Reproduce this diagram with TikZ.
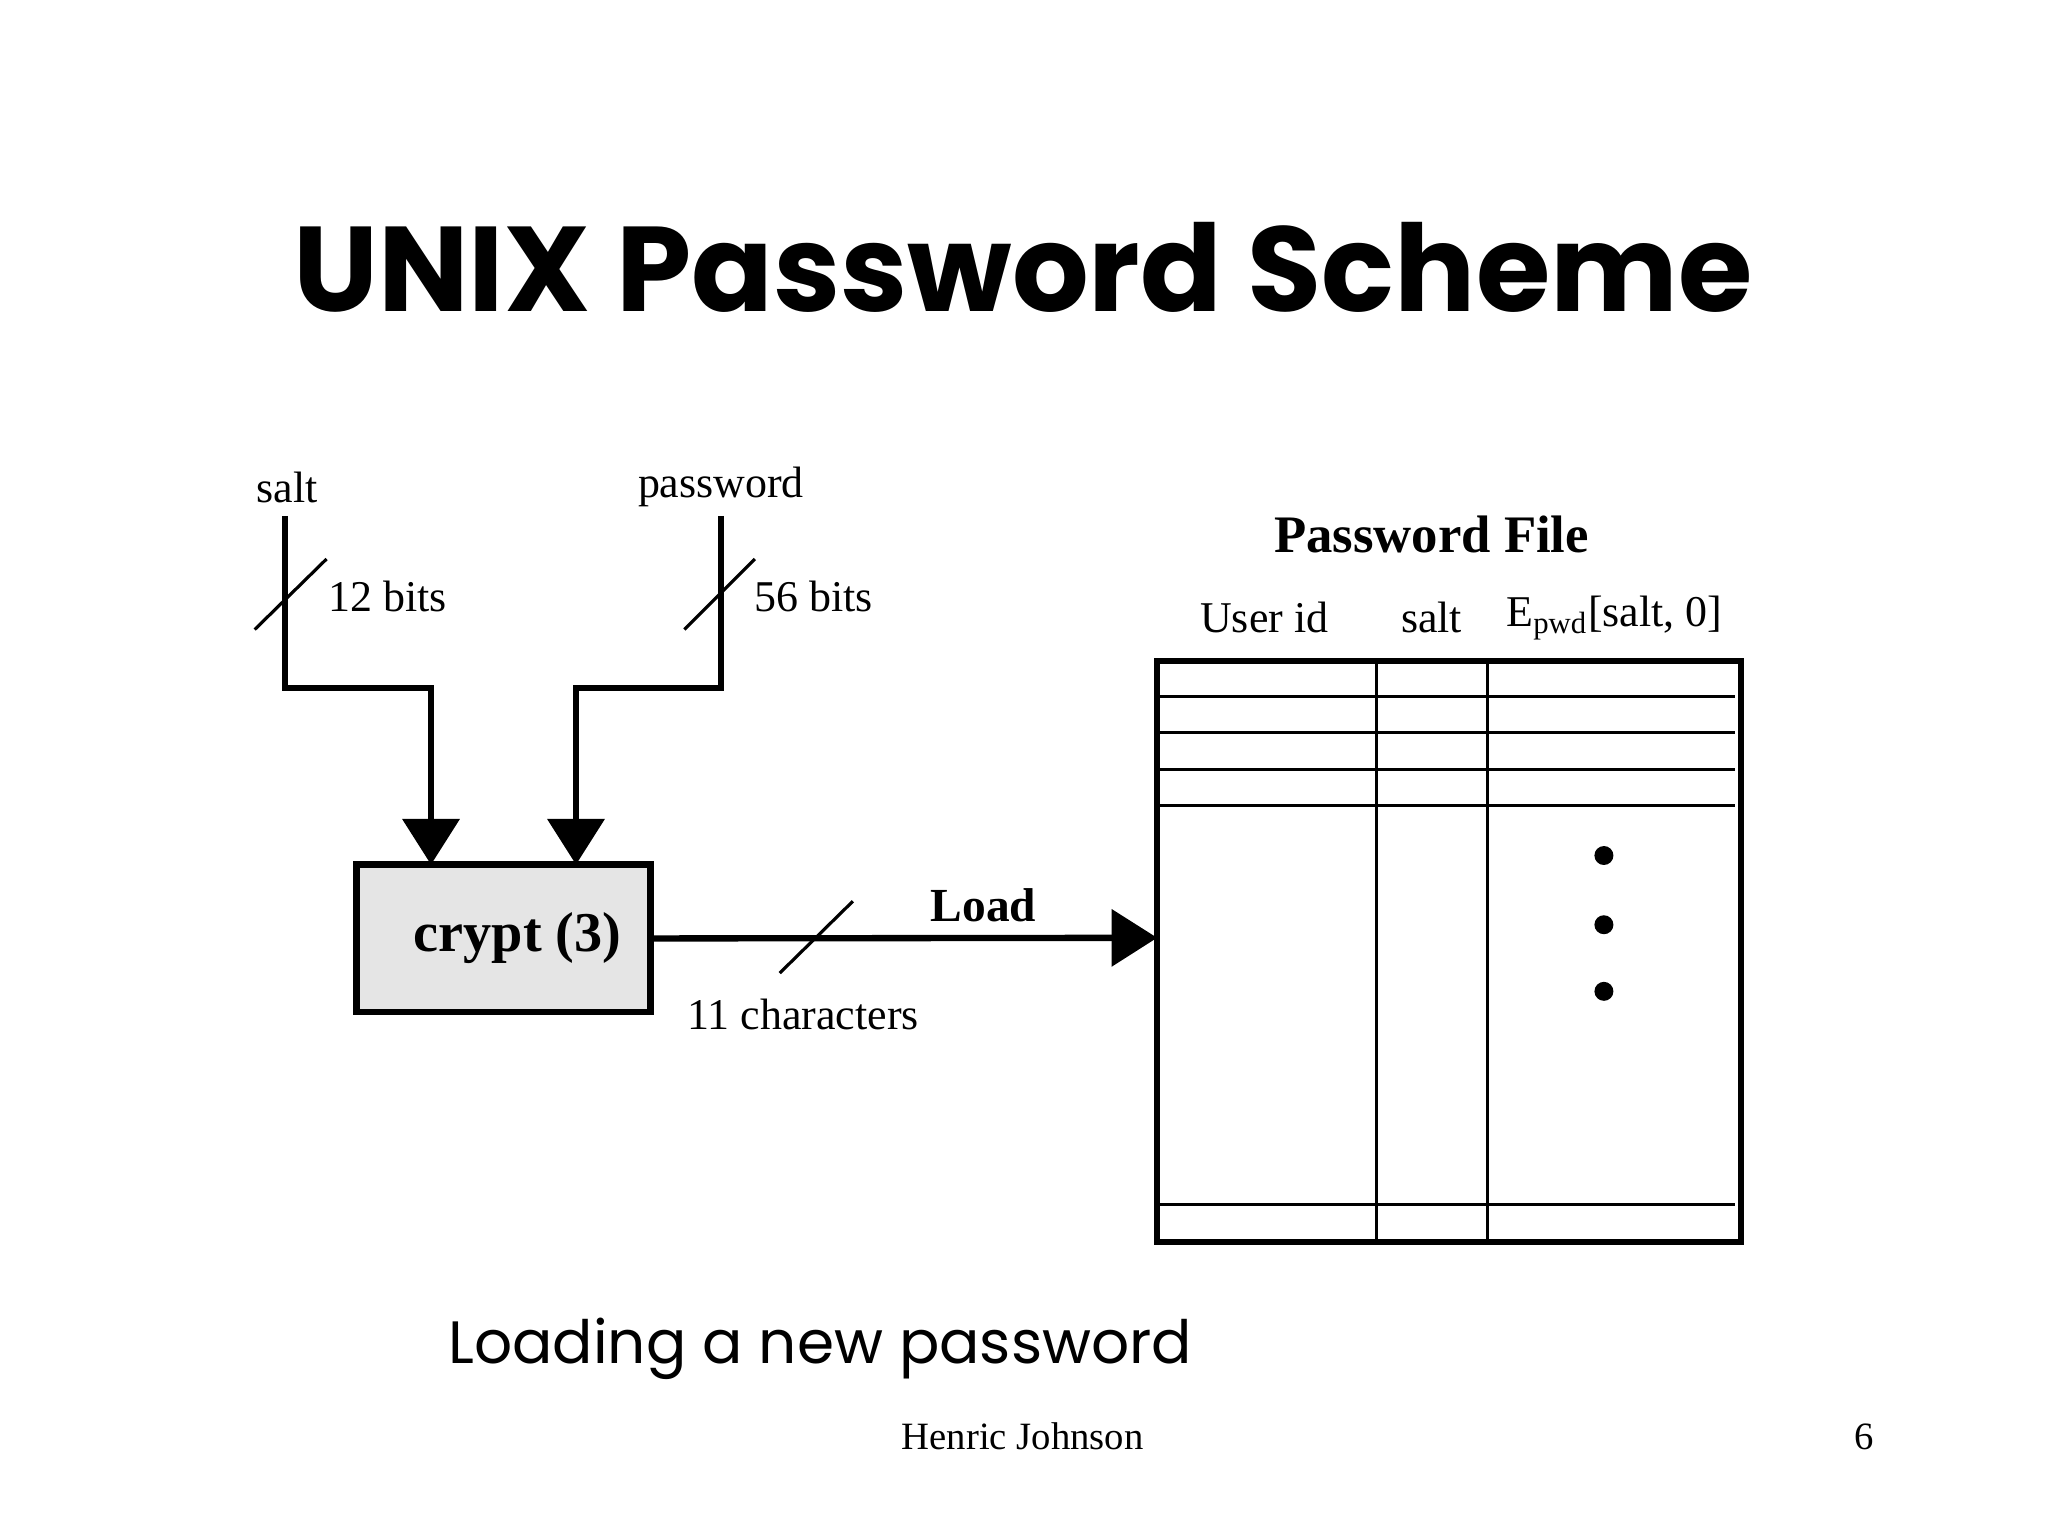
\documentclass[tikz,border=0pt]{standalone}
\usepackage{fontspec}
\setmainfont{Liberation Serif}
\newfontfamily\ttl{Poppins}
\usetikzlibrary{arrows.meta}
\begin{document}
\begin{tikzpicture}[x=0.01306cm,y=-0.01306cm,
  wire/.style={line width=1.8pt},
  tip/.style={-{Triangle[width=16pt,length=13pt]}},
  lbl/.style={font=\fontsize{12.5}{14}\selectfont},
  sl/.style={line width=0.9pt}]
\useasboundingbox (0,0) rectangle (1568,1176);
\node (title) at (783,205) {\ttl\fontsize{34.3}{40}\selectfont\bfseries UNIX Password Scheme};
\node[lbl] (salt) at (220,373) {salt};
\node[lbl] (pw) at (552,373) {password};
\coordinate (s1) at (218,395); \coordinate (p1) at (552,395);
\node[draw,line width=1.8pt,fill=black!10,minimum width=225*0.01306cm,minimum height=113*0.01306cm,
  font=\fontsize{16}{18}\selectfont\bfseries] (crypt) at (385.5,718.5) {\hspace*{8pt}crypt (3)};
\draw[wire,tip] (s1) |- (330,527) -- (330,662);
\draw[wire,tip] (p1) |- (441,527) -- (441,662);
\draw[sl] (195,482) -- (250,428);
\draw[sl] (524,482) -- (578,428);
\node[lbl,anchor=west] (b12) at (242,457) {12 bits};
\node[lbl,anchor=west] (b56) at (568,457) {56 bits};
% table
\draw[line width=1.8pt] (886,506) rectangle (1333,951);
\coordinate (tin) at (886,718);
\draw[wire,tip] (crypt.east) -- (tin);
\draw[sl] (597,745) -- (653,690);
\node[font=\fontsize{13.5}{15}\selectfont\bfseries] (load) at (753,693) {Load};
\node[lbl] (eleven) at (615,777) {11 characters};
\foreach \y in {533,561,589,617,922} \draw[line width=0.9pt] (886,\y) -- (1328,\y);
\foreach \x in {1054,1139} \draw[line width=0.9pt] (\x,506) -- (\x,951);
\node[font=\fontsize{15}{17}\selectfont\bfseries] (pf) at (1096,409) {Password File};
\node[lbl] (uid) at (968,473) {User id};
\node[lbl] (hs) at (1096,473) {salt};
\node[lbl] (ep) at (1236,473) {E$_{\mathrm{pwd}}$[salt, 0]};
\foreach \y in {655,708,759} \fill (1228,\y) circle (2.7pt);
\node (cap) at (628,1033) {\ttl\fontsize{17}{20}\selectfont Loading a new password};
\node[font=\fontsize{11}{13}\selectfont] (auth) at (783,1100) {Henric Johnson};
\node[font=\fontsize{11}{13}\selectfont] (num) at (1427,1100) {6};
\end{tikzpicture}
\end{document}
